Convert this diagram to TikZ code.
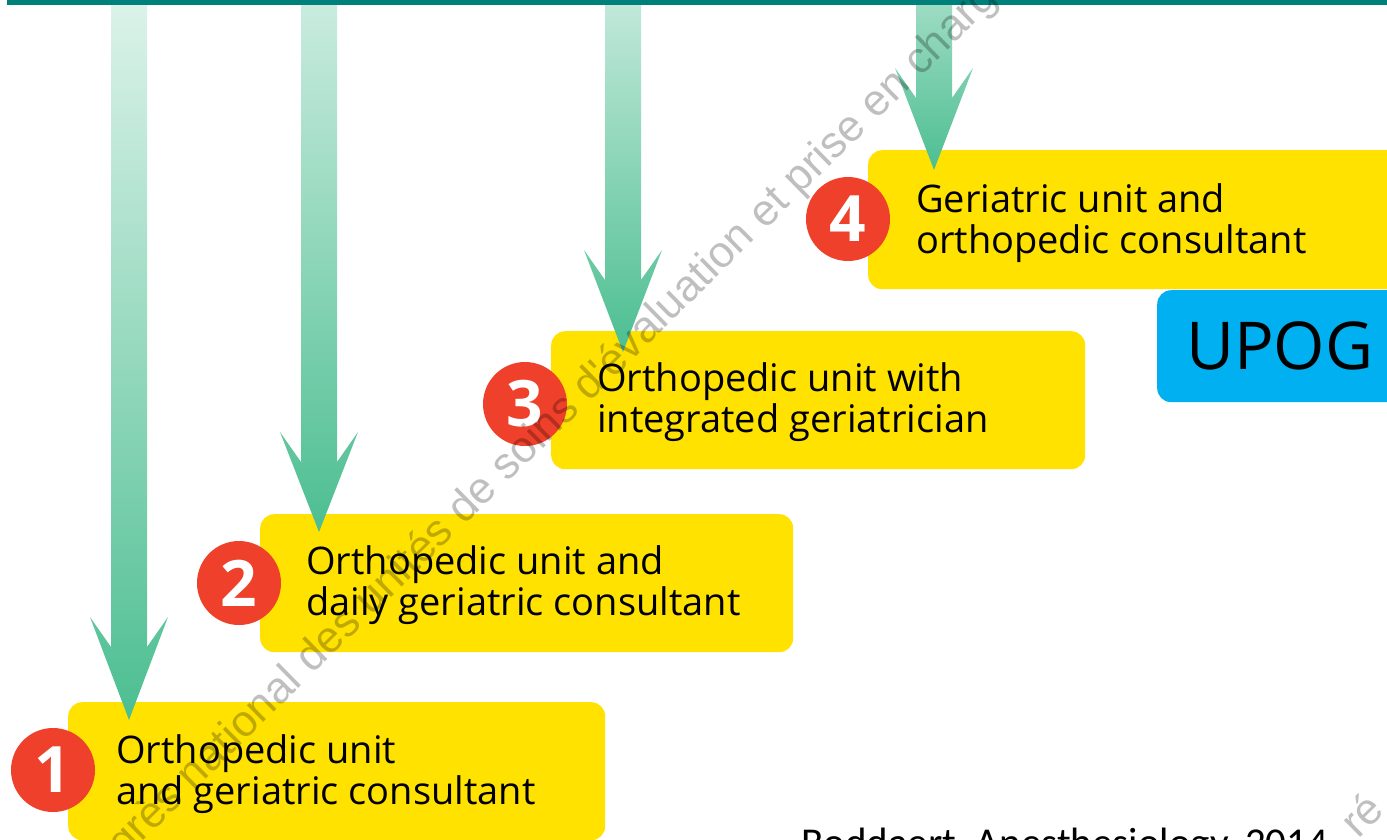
\documentclass[tikz,border=0pt]{standalone}
\usepackage{fontspec}
\setmainfont{Open Sans}
\newfontfamily\citefont{Carlito}
\newfontfamily\wmfont{Liberation Sans}
\definecolor{tealline}{RGB}{0,128,122}
\definecolor{arrowc}{RGB}{76,190,145}
\definecolor{yboxc}{RGB}{255,226,0}
\definecolor{redc}{RGB}{238,64,42}
\definecolor{bluec}{RGB}{0,176,240}
\tikzset{
  ybox/.style={draw=none, fill=yboxc, rounded corners=14pt, inner sep=0pt, anchor=north west},
  bbox/.style={draw=none, fill=bluec, rounded corners=14pt, inner sep=0pt, anchor=north west},
  numc/.style={circle, fill=redc, minimum size=84pt, inner sep=0pt, text=white,
    font=\fontsize{64}{64}\selectfont\bfseries},
  btext/.style={anchor=base west, inner sep=0pt, align=left,
    font=\fontsize{38}{41}\selectfont},
  wm/.style={anchor=base west, inner sep=0pt, rotate=44.5, text=black, text opacity=0.25,
    font=\wmfont\fontsize{44}{44}\selectfont}
}
\newcommand\fatarrow[4]{%
  \shade[top color=#4, bottom color=arrowc]
    (#1-18,5) -- (#1-18,#2+30) -- (#1-39,#2) -- (#1,#3) -- (#1+39,#2)
    -- (#1+18,#2+30) -- (#1+18,5) -- cycle;}
\begin{document}
\begin{tikzpicture}[x=1pt,y=-1pt]
\useasboundingbox (0,0) rectangle (1387,839);
\fill[white] (0,0) rectangle (1387,839);
% top line
\coordinate (lineL) at (7,2.5);
\coordinate (lineR) at (1390,2.5);
\draw[tealline, line width=5pt] (lineL) -- (lineR);
% boxes
\node[ybox, minimum width=537pt, minimum height=138pt] (b1) at (68,702) {};
\node[ybox, minimum width=533pt, minimum height=138pt] (b2) at (260,514) {};
\node[ybox, minimum width=534pt, minimum height=138pt] (b3) at (551,331) {};
\node[ybox, minimum width=540pt, minimum height=139pt] (b4) at (868,150) {};
\node[bbox, minimum width=250pt, minimum height=112pt] (upogbox) at (1157,290) {};
% circles
\node[numc] (c1) at (53,770) {1};
\node[numc] (c2) at (239,583) {2};
\node[numc] (c3) at (525,404) {3};
\node[numc] (c4) at (848,219) {4};
% arrows
\fatarrow{129}{617}{720}{arrowc!20}
\fatarrow{319}{432}{532}{arrowc!30}
\fatarrow{623}{250}{352}{arrowc!35}
\fatarrow{934}{68}{170}{arrowc!55}
% texts (base = baseline of the last line)
\node[btext] (t1) at (116,804) {Orthopedic unit\\and geriatric consultant};
\node[btext] (t2) at (306,615) {Orthopedic unit and\\daily geriatric consultant};
\node[btext] (t3) at (597,432) {Orthopedic unit with\\integrated geriatrician};
\node[btext] (t4) at (916,253) {Geriatric unit and\\orthopedic consultant};
\node[anchor=base west, inner sep=0pt, font=\fontsize{66}{66}\selectfont] (upog) at (1186,369) {UPOG};
\node[anchor=base west, inner sep=0pt, font=\citefont\fontsize{41}{41}\selectfont] (cite) at (801,856) {Boddaert, Anesthesiology, 2014};
% watermark
\node[wm] (wm1) at (124,860) {grès national des unités de soins d'évaluation et prise en charge};
\node[wm] (wm2) at (1358,840) {ré};
\end{tikzpicture}
\end{document}
